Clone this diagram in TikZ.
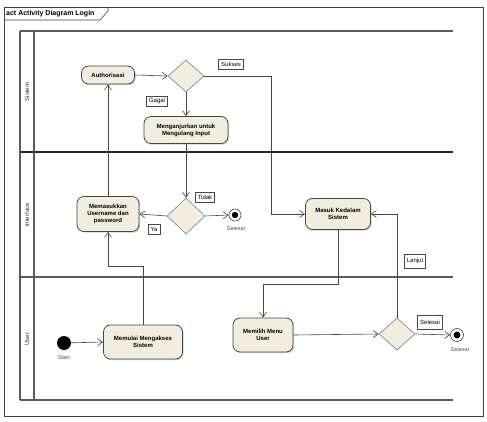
\documentclass[tikz,border=0pt]{standalone}
\usepackage{fontspec}
\setmainfont{Liberation Sans}
\usetikzlibrary{arrows.meta,shapes.geometric,shadows}
\definecolor{nodefill}{RGB}{242,237,222}
\definecolor{edgegray}{RGB}{70,70,70}
\definecolor{lanegray}{RGB}{90,90,90}
\tikzset{
  act/.style={draw=edgegray, fill=nodefill, rounded corners=7pt, line width=0.8pt,
    inner sep=1pt, align=center, font=\fontsize{6}{7}\selectfont\bfseries,
    drop shadow={shadow xshift=1.2pt, shadow yshift=-1.2pt, fill=black!35}},
  dec/.style={diamond, draw=edgegray!70, fill=nodefill, line width=0.6pt,
    inner sep=0pt, minimum width=36pt, minimum height=32pt},
  lbl/.style={draw=edgegray, fill=white, line width=0.5pt, inner xsep=2.5pt, inner ysep=2pt,
    minimum height=10pt, font=\fontsize{6}{6}\selectfont},
  captext/.style={font=\fontsize{5.5}{6}\selectfont, text=black!70},
  flow/.style={draw=edgegray, line width=0.6pt, -{Straight Barb[length=5pt,width=7pt]}},
  lane/.style={draw=lanegray, line width=1.4pt},
  lanetext/.style={rotate=90, font=\fontsize{6}{7}\selectfont, text=black!80},
}
\begin{document}
\begin{tikzpicture}[x=1pt,y=-1pt]
\useasboundingbox (0,0) rectangle (487,422);
\fill[white] (0,0) rectangle (487,422);
% frame
\draw[black!75, line width=0.7pt] (4,7) rectangle (483,416);
\draw[black!75, line width=0.6pt] (4,20) -- (100,20) -- (108,11) -- (108,7);
\node[anchor=west, font=\fontsize{7}{8}\selectfont\bfseries, inner sep=0pt] (title) at (6,14) {act Activity Diagram Login};
% lanes
\draw[lane] (20,31) -- (453,31);
\draw[lane, draw=black!85] (20,152) -- (453,152);
\draw[lane] (20,277) -- (453,277);
\draw[lane] (20,400) -- (453,400);
\draw[lane] (20,31) -- (20,400);
\draw[lane] (34,31) -- (34,400);
\node[lanetext] (ls) at (27,92) {Sistem};
\node[lanetext] (li) at (27,215) {Interface};
\node[lanetext] (lu) at (27,339) {User};
% nodes
\node[act, minimum width=53pt, minimum height=18pt] (auth) at (108,75) {Authorisasi};
\node[dec] (d1) at (186,76) {};
\node[act, minimum width=84pt, minimum height=27pt] (meng) at (186,130) {Menganjurkan untuk\\Mengulang Input};
\node[dec, minimum width=38pt, minimum height=36pt] (d2) at (186,216) {};
\node[act, minimum width=62pt, minimum height=35pt] (mem) at (108,214) {Memasukkan\\Username dan\\password};
\node[circle, draw=edgegray, fill=white, line width=0.6pt, minimum size=12pt, inner sep=0pt] (fin1) at (235,215) {};
\fill[black] (fin1) circle (3.2pt);
\node[captext] (fin1l) at (236,229) {Selesai};
\node[act, minimum width=65pt, minimum height=31pt] (masuk) at (338,214) {Masuk Kedalam\\Sistem};
\node[circle, fill=black, minimum size=14pt, inner sep=0pt] (start) at (64,343) {};
\node[captext] (startl) at (64,358) {Start};
\node[act, minimum width=79pt, minimum height=34pt] (mulai) at (143,342) {Memulai Mengakses\\Sistem};
\node[act, minimum width=60pt, minimum height=34pt] (pilih) at (263,335) {Memilih Menu\\User};
\node[dec] (d3) at (397,334) {};
\node[circle, draw=edgegray, fill=white, line width=0.6pt, minimum size=13pt, inner sep=0pt] (fin2) at (457,335) {};
\fill[black] (fin2) circle (3.4pt);
\node[captext] (fin2l) at (460,350) {Selesai};
% labels
\node[lbl] (sukses) at (231,64) {Sukses};
\node[lbl] (gagal) at (157,101) {Gagal};
\node[lbl] (tidak) at (205,197) {Tidak};
\node[lbl] (ya) at (154,229) {Ya};
\node[lbl, minimum height=14pt] (lanjut) at (415,261) {Lanjut};
\node[lbl, minimum height=14pt] (sel) at (430,322) {Selesai};
% flows
\draw[flow] (start) -- (mulai.west);
\draw[flow] (mulai.north) -- ++(0,-58) -| (mem.south);
\draw[flow] (mem.north) -- (auth.south);
\draw[flow] (auth.east) -- (d1.west);
\draw[flow] (d1.south) -- (meng.north);
\draw[flow] (d1.east) -- (271,76) |- (masuk.west);
\draw[flow] (meng.south) -- (d2.north);
\draw[flow] (d2.east) -- (fin1.west);
\draw[flow] (d2.west) -- (mem.east);
\draw[flow] (masuk.south) -- ++(0,54) -| (pilih.north);
\draw[flow] (pilih.east) -- (d3.west);
\draw[flow] (d3.north) |- (masuk.east);
\draw[flow] (d3.east) -- (fin2.west);
\end{tikzpicture}
\end{document}
